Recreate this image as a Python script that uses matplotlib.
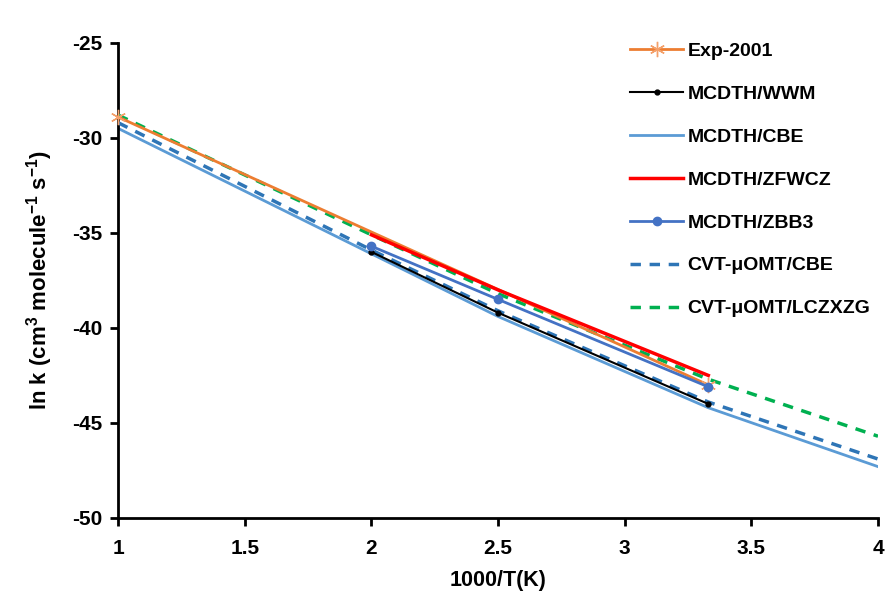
import matplotlib
matplotlib.use('Agg')
import matplotlib.pyplot as plt

plt.rcParams['font.family'] = ['Liberation Sans', 'DejaVu Sans']
plt.rcParams['font.weight'] = 'bold'
plt.rcParams['axes.unicode_minus'] = False
plt.rcParams['mathtext.fontset'] = 'custom'
plt.rcParams['mathtext.rm'] = 'Liberation Sans:bold'
plt.rcParams['mathtext.bf'] = 'Liberation Sans:bold'
plt.rcParams['mathtext.default'] = 'bf'

# === Данные ===
x_exp = [1.0, 3.33]
y_exp = [-28.9, -43.0]

x_mcdth = [2.0, 2.5, 3.33]
y_wwm = [-36.0, -39.2, -44.0]
y_zfwcz = [-35.1, -38.0, -42.5]
y_zbb3 = [-35.7, -38.5, -43.1]

x_full = [1.0, 2.0, 2.5, 3.33, 4.0]
y_cbe = [-29.5, -36.1, -39.4, -44.2, -47.3]
y_cvt_cbe = [-29.2, -35.9, -39.1, -43.9, -46.9]
y_cvt_lczxzg = [-28.8, -35.1, -38.2, -42.7, -45.7]

fig = plt.figure(figsize=(8.95, 5.96), dpi=100)
ax = fig.add_axes([0.132, 0.131, 0.849, 0.797])

ax.plot(x_full, y_cbe, color='#5B9BD5', linewidth=2, label='MCDTH/CBE', zorder=2)
ax.plot(x_full, y_cvt_cbe, color='#2E75B6', linewidth=2.5, linestyle=(0, (3, 2.5)),
        label='CVT-μOMT/CBE', zorder=3)
ax.plot(x_full, y_cvt_lczxzg, color='#00B050', linewidth=2.5, linestyle=(0, (3, 2.5)),
        label='CVT-μOMT/LCZXZG', zorder=3)
ax.plot(x_exp, y_exp, color='#ED7D31', linewidth=2, marker=(6, 2, 0), markersize=11,
        markeredgewidth=1, markeredgecolor='#F4A06A', label='Exp-2001', zorder=4,
        clip_on=False)
ax.plot(x_mcdth, y_wwm, color='black', linewidth=1.5, marker='o', markersize=3.5,
        label='MCDTH/WWM', zorder=4)
ax.plot(x_mcdth, y_zfwcz, color='#FF0000', linewidth=2.5, label='MCDTH/ZFWCZ', zorder=5)
ax.plot(x_mcdth, y_zbb3, color='#4472C4', linewidth=2, marker='o', markersize=6,
        label='MCDTH/ZBB3', zorder=6)

ax.set_xlim(1, 4)
ax.set_ylim(-50, -25)
ax.set_xticks([1, 1.5, 2, 2.5, 3, 3.5, 4])
ax.set_xticklabels(['1', '1.5', '2', '2.5', '3', '3.5', '4'])
ax.set_yticks([-50, -45, -40, -35, -30, -25])
ax.tick_params(axis='both', direction='out', length=6, width=2, labelsize=15)
ax.tick_params(axis='x', pad=9)
ax.tick_params(axis='y', pad=5)

for s in ['top', 'right']:
    ax.spines[s].set_visible(False)
for s in ['left', 'bottom']:
    ax.spines[s].set_linewidth(2)

ax.set_xlabel('1000/T(K)', fontsize=15.5, fontweight='bold', labelpad=9)
ax.set_ylabel(r'ln k (cm$^{3}$ molecule$^{-1}$ s$^{-1}$)', fontsize=16, fontweight='bold',
              labelpad=13)

handles, labels = ax.get_legend_handles_labels()
order = ['Exp-2001', 'MCDTH/WWM', 'MCDTH/CBE', 'MCDTH/ZFWCZ', 'MCDTH/ZBB3',
         'CVT-μOMT/CBE', 'CVT-μOMT/LCZXZG']
hmap = dict(zip(labels, handles))
ax.legend([hmap[l] for l in order], order, loc='upper left',
          bbox_to_anchor=(0.651, 1.038), frameon=False, fontsize=14,
          labelspacing=1.3, handlelength=2.7, handletextpad=0.25)

fig.savefig('out.png', dpi=100)
